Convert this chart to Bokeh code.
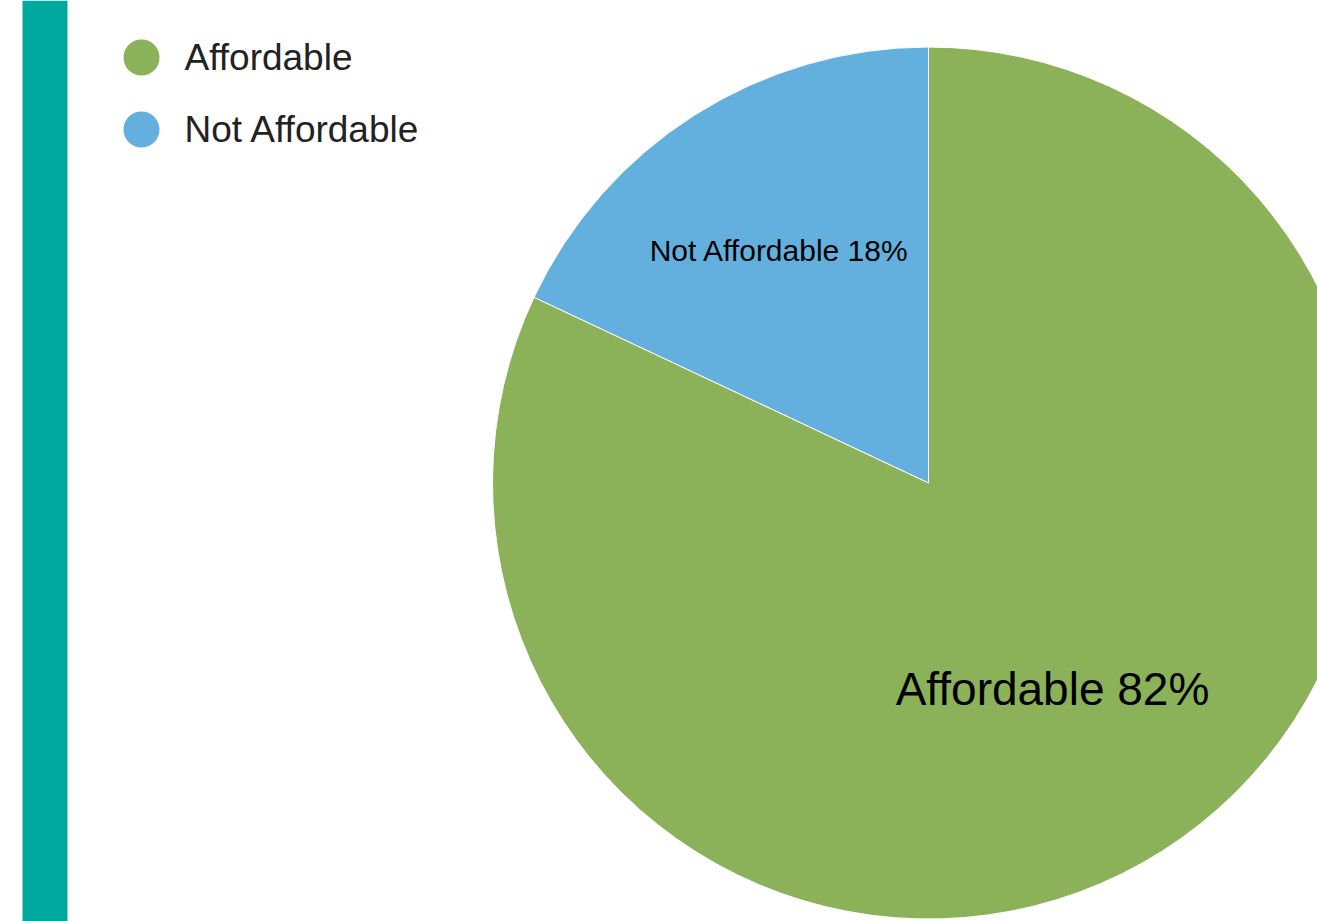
import numpy as np
from bokeh.plotting import figure
from bokeh.models import Range1d, ColumnDataSource
from bokeh.core.properties import value
from bokeh.embed import file_html
from bokeh.resources import INLINE

# Data
categories = ["Not Affordable", "Affordable"]
shares = [18, 82]
colors = ["#63B0DF", "#8BB159"]
legend_order = ["Affordable", "Not Affordable"]
legend_colors = ["#8BB159", "#63B0DF"]

W, H = 1317, 921
FONT = "Arial, 'Liberation Sans', sans-serif"
p = figure(width=W, height=H, output_backend="svg", toolbar_location=None,
           x_range=Range1d(0, W), y_range=Range1d(0, H),
           min_border=0, border_fill_color="white", background_fill_color="white")
p.axis.visible = False
p.grid.visible = False
p.outline_line_color = None

# teal side bar
p.quad(left=22, right=67, bottom=0, top=H, fill_color="#00A99D", line_color=None)

# pie
cx, cy, r = 928, H - 482.5, 436
fr = np.array(shares) / sum(shares)
ends = np.pi / 2 + 2 * np.pi * np.cumsum(fr)
starts = np.concatenate([[np.pi / 2], ends[:-1]])
src = ColumnDataSource(dict(cat=categories, start=starts, end=ends, color=colors))
p.wedge(x=cx, y=cy, radius=r, start_angle="start", end_angle="end",
        fill_color="color", line_color="white", line_width=1, source=src)

# slice labels
lab_x = [779, 1052]
lab_y = [H - 250, H - 688]
lab_size = ["30px", "46px"]
for c, s, x, y, fs in zip(categories, shares, lab_x, lab_y, lab_size):
    p.text(x=[x], y=[y], text=[f"{c} {s}%"], text_align="center", text_baseline="middle",
           text_font=value(FONT), text_font_size=fs, text_color="#000000")

# legend
leg_y = [H - 57, H - 129]
p.scatter(x=[141, 141], y=leg_y, size=36, marker="circle", fill_color=legend_colors, line_color=None)
p.text(x=[184, 184], y=leg_y, text=legend_order, text_align="left", text_baseline="middle",
       text_font=value(FONT), text_font_size="37px", text_color="#222222")

open("out.html", "w").write(file_html(p, INLINE))
